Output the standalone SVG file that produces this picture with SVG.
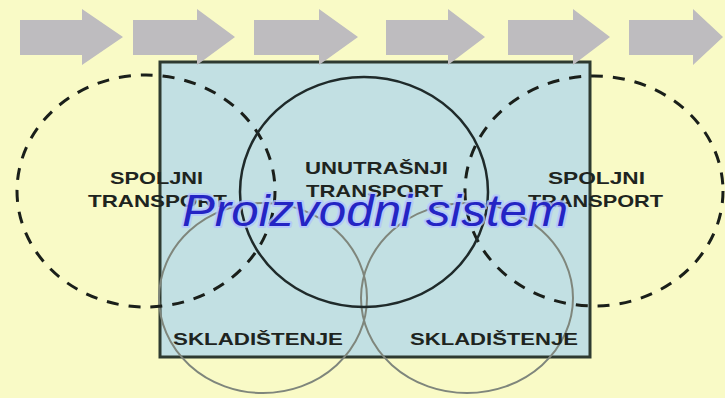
<svg xmlns="http://www.w3.org/2000/svg" width="725" height="398" viewBox="0 0 725 398">
<style>
.arrow{fill:#BEBCBF}
.lbl{font-family:"Liberation Sans",Arial,sans-serif;font-size:17px;font-weight:bold;fill:#1E2420}
.dash{fill:none;stroke:#1A1F1A;stroke-width:3;stroke-dasharray:12 10}
.solid{fill:none;stroke:#1F2A2A;stroke-width:2.5}
.gray{fill:none;stroke:#7F867C;stroke-width:2}
.big{font-family:"Liberation Sans",Arial,sans-serif;font-size:44px;font-style:italic}
</style>
<rect width="725" height="398" fill="#F9FAC6"/>
<g id="system">
<rect x="160" y="62" width="430" height="295" fill="#C2E0E3" stroke="#2E3A30" stroke-width="3"/>
</g>
<g id="flow-arrows">
<polygon class="arrow" points="20,20 82,20 82,9 123,37 82,65 82,55 20,55"/>
<polygon class="arrow" points="133,20 197,20 197,9 235,37 197,65 197,55 133,55"/>
<polygon class="arrow" points="254,20 319,20 319,9 358,37 319,65 319,55 254,55"/>
<polygon class="arrow" points="386,20 448,20 448,9 485,37 448,65 448,55 386,55"/>
<polygon class="arrow" points="508,20 573,20 573,9 610,37 573,65 573,55 508,55"/>
<polygon class="arrow" points="629,20 693,20 693,9 723,37 693,65 693,55 629,55"/>
</g>
<g id="skladistenje-left">
<ellipse class="gray" cx="263" cy="298" rx="104" ry="95"/>
<text class="lbl" x="173" y="345" textLength="170" lengthAdjust="spacingAndGlyphs">SKLADIŠTENJE</text>
</g>
<g id="skladistenje-right">
<ellipse class="gray" cx="467" cy="298" rx="106" ry="95"/>
<text class="lbl" x="410" y="345" textLength="168" lengthAdjust="spacingAndGlyphs">SKLADIŠTENJE</text>
</g>
<g id="spoljni-left">
<ellipse class="dash" cx="146" cy="191" rx="129" ry="116"/>
<text class="lbl" x="110" y="184" textLength="93" lengthAdjust="spacingAndGlyphs">SPOLJNI</text>
<text class="lbl" x="88" y="207" textLength="139" lengthAdjust="spacingAndGlyphs">TRANSPORT</text>
</g>
<g id="spoljni-right">
<ellipse class="dash" cx="594" cy="191" rx="129" ry="115"/>
<text class="lbl" x="548" y="184" textLength="97" lengthAdjust="spacingAndGlyphs">SPOLJNI</text>
<text class="lbl" x="528" y="207" textLength="135" lengthAdjust="spacingAndGlyphs">TRANSPORT</text>
</g>
<g id="unutrasnji">
<ellipse class="solid" cx="364" cy="192" rx="124" ry="115"/>
<text class="lbl" x="305" y="174" textLength="143" lengthAdjust="spacingAndGlyphs">UNUTRAŠNJI</text>
<text class="lbl" x="306" y="197" textLength="137" lengthAdjust="spacingAndGlyphs">TRANSPORT</text>
</g>
<g id="title">
<text class="big" x="182" y="226" textLength="386" lengthAdjust="spacingAndGlyphs" fill="none" stroke="#B2C4FF" stroke-width="4" stroke-linejoin="round" opacity="0.8">Proizvodni sistem</text>
<text class="big" x="182" y="226" textLength="386" lengthAdjust="spacingAndGlyphs" fill="#2424C4">Proizvodni sistem</text>
</g>
</svg>
